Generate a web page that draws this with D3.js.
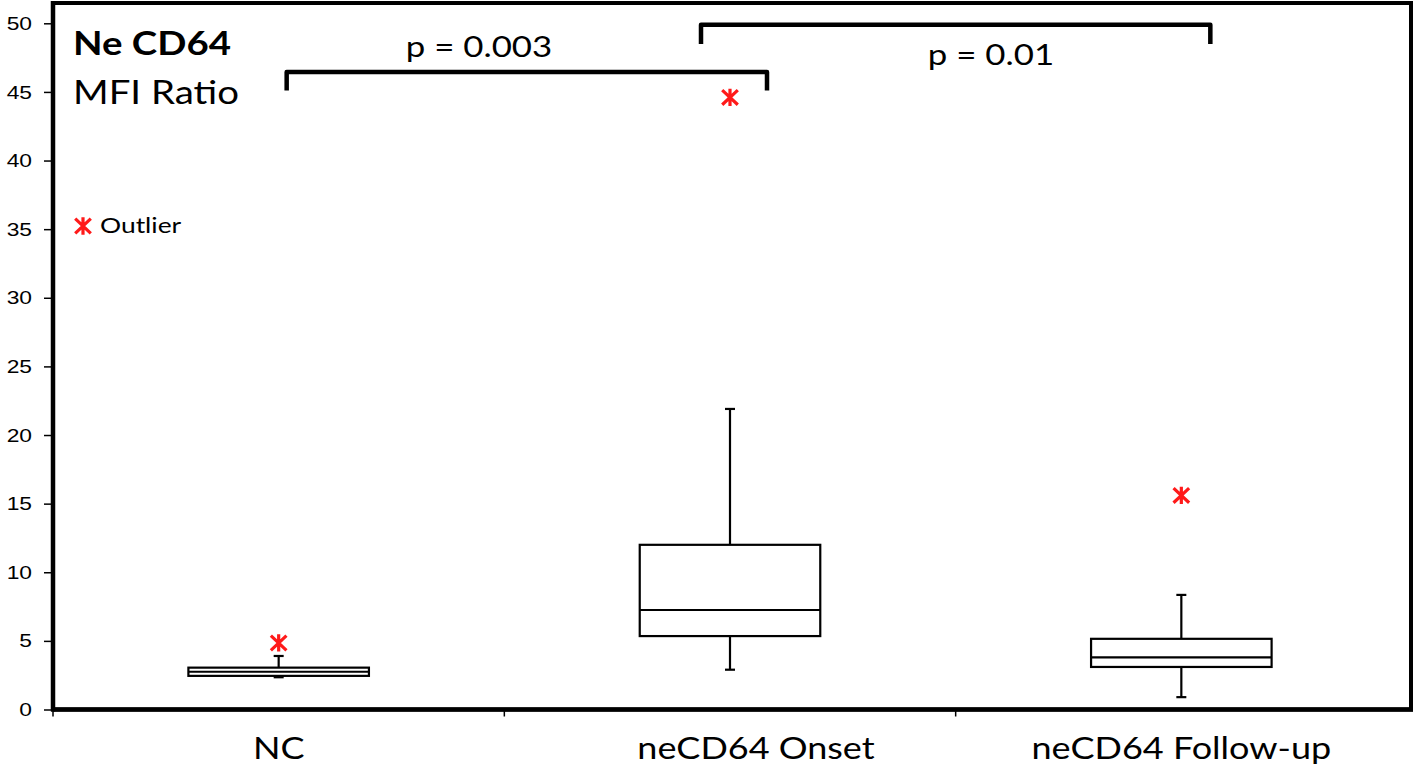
<!DOCTYPE html>
<html>
<head>
<meta charset="utf-8">
<script src="https://cdn.jsdelivr.net/npm/d3@7"></script>
<style>
  body { margin: 0; background: #fff; }
  svg { display: block; }
</style>
</head>
<body>
<div id="vis"></div>
<script>
// box summary per group
const categories = ['NC', 'neCD64 Onset', 'neCD64 Follow-up'];
const whiskerLow = [2.35, 2.9, 0.9];
const q1 = [2.45, 5.35, 3.1];
const median = [2.75, 7.25, 3.8];
const q3 = [3.05, 12.0, 5.15];
const whiskerHigh = [3.9, 21.9, 8.35];
const outliers = [4.85, 44.6, 15.6];
const yTicks = [0, 5, 10, 15, 20, 25, 30, 35, 40, 45, 50];
const comparisons = [
  { from: 0, to: 1, label: 'p = 0.003' },
  { from: 1, to: 2, label: 'p = 0.01' }
];

const width = 1416;
const height = 770;
const plotLeft = 53, plotRight = 1407, plotTop = 23.3, plotBottom = 709.5;
const red = '#ff1a1a';
const font = 'Lato, Carlito, sans-serif';
// the source figure is stretched sideways, so text is widened to match
const widen = 1.2;

function stretch(sel) {
  sel.each(function () {
    const w = this.getComputedTextLength();
    d3.select(this)
      .attr('textLength', w * widen)
      .attr('lengthAdjust', 'spacingAndGlyphs');
  });
}

const svg = d3.select('#vis')
  .append('svg')
  .attr('width', width)
  .attr('height', height);

const x = d3.scaleBand().domain(categories).range([plotLeft, plotRight]);
const y = d3.scaleLinear().domain([0, 50]).range([plotBottom, plotTop]);

const boxes = categories.map((c, i) => ({
  cat: c, lo: whiskerLow[i], q1: q1[i], med: median[i], q3: q3[i], hi: whiskerHigh[i], out: outliers[i]
}));

// asterisk marker: vertical stroke plus an X
const star = {
  draw(ctx, size) {
    const r = Math.sqrt(size) / 2;
    ctx.moveTo(0, -r); ctx.lineTo(0, r);
    ctx.moveTo(-r * 0.9, -r * 0.85); ctx.lineTo(r * 0.9, r * 0.85);
    ctx.moveTo(-r * 0.9, r * 0.85); ctx.lineTo(r * 0.9, -r * 0.85);
  }
};
const starPath = d3.symbol().type(star).size(300);

// frame
svg.append('rect')
  .attr('x', plotLeft).attr('y', 3)
  .attr('width', 1411 - plotLeft).attr('height', plotBottom - 3)
  .attr('fill', 'none').attr('stroke', '#000').attr('stroke-width', 4);

// y axis
const yAxis = svg.append('g')
  .attr('transform', `translate(${plotLeft},0)`)
  .call(d3.axisLeft(y).tickValues(yTicks).tickSize(9).tickPadding(12));
yAxis.select('.domain').remove();
yAxis.selectAll('.tick line').attr('stroke-width', 1.5);
yAxis.selectAll('.tick text')
  .attr('font-family', 'Liberation Sans, Arial, sans-serif')
  .attr('font-size', 19).attr('fill', '#000')
  .call(stretch);

// x axis: ticks at group boundaries
const xAxis = svg.append('g')
  .attr('transform', `translate(0,${plotBottom})`)
  .call(d3.axisBottom(x).tickSize(0).tickPadding(28));
xAxis.select('.domain').remove();
xAxis.selectAll('.tick text')
  .attr('font-family', font)
  .attr('font-size', 30).attr('fill', '#000')
  .attr('dx', d => d === 'neCD64 Onset' ? 26 : 0)
  .call(stretch);
svg.append('g')
  .selectAll('line')
  .data(categories.map(c => x(c)))
  .join('line')
  .attr('x1', d => d).attr('x2', d => d)
  .attr('y1', plotBottom).attr('y2', plotBottom + 7)
  .attr('stroke', '#000').attr('stroke-width', 1.5);
svg.append('line')
  .attr('x1', plotLeft).attr('x2', 1413)
  .attr('y1', plotBottom).attr('y2', plotBottom)
  .attr('stroke', '#000').attr('stroke-width', 4.5);
svg.append('line')
  .attr('x1', plotLeft).attr('x2', plotLeft)
  .attr('y1', 1).attr('y2', plotBottom + 2)
  .attr('stroke', '#000').attr('stroke-width', 4.5);

// boxes
const bw = x.bandwidth() * 0.4;
const g = svg.append('g')
  .selectAll('g')
  .data(boxes)
  .join('g')
  .attr('transform', d => `translate(${x(d.cat) + x.bandwidth() / 2},0)`);

g.append('line')
  .attr('x1', 0).attr('x2', 0)
  .attr('y1', d => y(d.hi)).attr('y2', d => y(d.q3))
  .attr('stroke', '#000').attr('stroke-width', 2.2);
g.append('line')
  .attr('x1', 0).attr('x2', 0)
  .attr('y1', d => y(d.lo)).attr('y2', d => y(d.q1))
  .attr('stroke', '#000').attr('stroke-width', 2.2);
g.selectAll('.cap')
  .data(d => [d.hi, d.lo])
  .join('line')
  .attr('class', 'cap')
  .attr('x1', -5).attr('x2', 5)
  .attr('y1', d => y(d)).attr('y2', d => y(d))
  .attr('stroke', '#000').attr('stroke-width', 2.2);
g.append('rect')
  .attr('x', -bw / 2).attr('width', bw)
  .attr('y', d => y(d.q3))
  .attr('height', d => y(d.q1) - y(d.q3))
  .attr('fill', '#fff').attr('stroke', '#000').attr('stroke-width', 2.2);
g.append('line')
  .attr('x1', -bw / 2).attr('x2', bw / 2)
  .attr('y1', d => y(d.med)).attr('y2', d => y(d.med))
  .attr('stroke', '#000').attr('stroke-width', 2.2);
g.append('path')
  .attr('transform', d => `translate(0,${y(d.out)})`)
  .attr('d', starPath)
  .attr('fill', 'none').attr('stroke', red).attr('stroke-width', 3.2);

// significance brackets
const cx = i => x(categories[i]) + x.bandwidth() / 2;
const bracketY = [46.45, 49.9];
const legY = [45.1, 48.5];
const ends = [[8, 37], [-29, 29]];
const labelX = [479, 991];
const labelBase = [57, 65];
comparisons.forEach((c, i) => {
  const x0 = cx(c.from) + ends[i][0];
  const x1 = cx(c.to) + ends[i][1];
  const p = d3.path();
  p.moveTo(x0, y(legY[i]));
  p.lineTo(x0, y(bracketY[i]));
  p.lineTo(x1, y(bracketY[i]));
  p.lineTo(x1, y(legY[i]));
  svg.append('path')
    .attr('d', p.toString())
    .attr('fill', 'none').attr('stroke', '#000').attr('stroke-width', 4.5)
    .attr('stroke-linejoin', 'round');
  svg.append('text')
    .attr('x', labelX[i]).attr('y', labelBase[i])
    .attr('text-anchor', 'middle')
    .attr('font-family', font)
    .attr('font-size', 29)
    .text(c.label)
    .call(stretch);
});

// title
svg.append('text')
  .attr('x', 73).attr('y', 55)
  .attr('font-family', font)
  .attr('font-size', 32).attr('font-weight', 'bold')
  .text('Ne CD64')
  .call(stretch);
svg.append('text')
  .attr('x', 73).attr('y', 104)
  .attr('font-family', font)
  .attr('font-size', 32)
  .text('MFI Ratio')
  .call(stretch);

// legend
svg.append('path')
  .attr('transform', 'translate(83,226)')
  .attr('d', starPath)
  .attr('fill', 'none').attr('stroke', red).attr('stroke-width', 3.2);
svg.append('text')
  .attr('x', 100).attr('y', 233)
  .attr('font-family', font)
  .attr('font-size', 22)
  .text('Outlier')
  .call(stretch);
</script>
</body>
</html>
